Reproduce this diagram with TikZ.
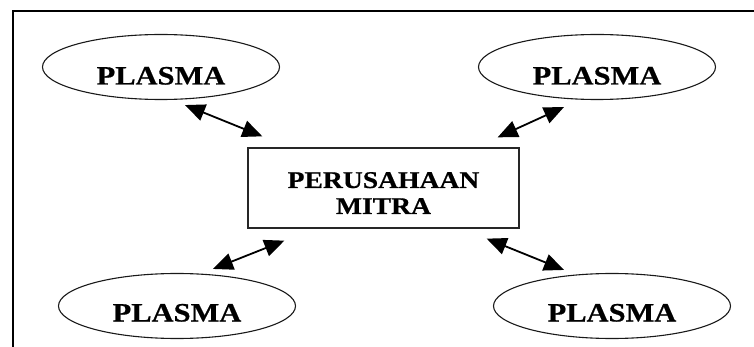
\documentclass[tikz,border=0pt]{standalone}
\usepackage{fontspec}
\setmainfont{Liberation Serif}
\newfontfamily\labelfont[FakeStretch=1.15,BoldFeatures={FakeBold=0.6}]{Liberation Serif}
\usetikzlibrary{shapes.geometric,arrows.meta}
\tikzset{
  plasma/.style={ellipse, draw=black!90, line width=1.1pt, minimum width=237pt,
    minimum height=65pt, inner sep=0pt,
    font=\labelfont\bfseries\fontsize{26.5}{28}\selectfont},
  mitra/.style={rectangle, draw=black!85, line width=1.3pt, minimum width=271pt,
    minimum height=80pt, inner sep=0pt,
    font=\labelfont\bfseries\fontsize{24}{26}\selectfont},
  biarrow/.style={line width=1.8pt,
    {Triangle[length=20pt,width=17pt]}-{Triangle[length=20pt,width=17pt]}},
  frame/.style={line width=1.4pt, black}
}
% text set on a baseline offset from the node centre, taking no room of its own
\newcommand{\lowtext}[2]{\raisebox{-#1}[0pt][0pt]{#2}}
\begin{document}
\begin{tikzpicture}[x=1pt, y=-1pt]
  \useasboundingbox (0,0) rectangle (754,347);
  % outer frame (left and top edges)
  \draw[frame] (13,347) -- (13,11) -- (754,11);
  % nodes
  \node[mitra] (m) at (383.5,188)
    {\lowtext{26pt}{\begin{tabular}[b]{@{}c@{}}PERUSAHAAN\\MITRA\end{tabular}}};
  \node[plasma] (p1) at (161,67) {\lowtext{17.5pt}{PLASMA}};
  \node[plasma] (p2) at (597,67) {\lowtext{17.5pt}{PLASMA}};
  \node[plasma] (p3) at (177,306) {\lowtext{15.5pt}{PLASMA}};
  \node[plasma] (p4) at (612,306) {\lowtext{15.5pt}{PLASMA}};
  % connectors
  \draw[biarrow] ([shift={(24,5)}]p1.south) -- ([shift={(15,-11)}]m.north west);
  \draw[biarrow] ([shift={(-33,7)}]p2.south) -- ([shift={(-22,-10)}]m.north east);
  \draw[biarrow] ([shift={(36,-4)}]p3.north) -- ([shift={(37,12)}]m.south west);
  \draw[biarrow] ([shift={(-33,10)}]m.south east) -- ([shift={(-48,-3)}]p4.north);
\end{tikzpicture}
\end{document}
